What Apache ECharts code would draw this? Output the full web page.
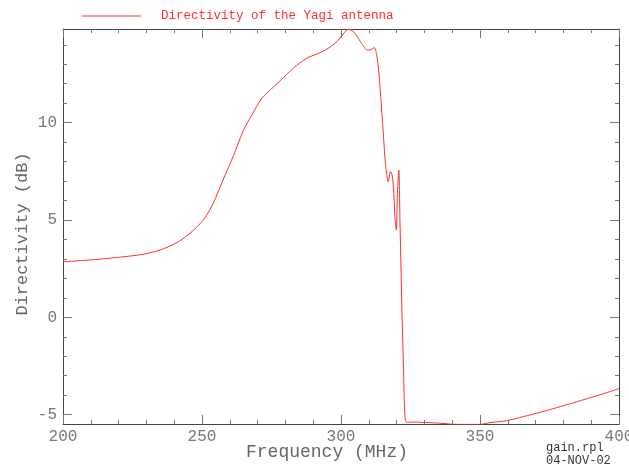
<!DOCTYPE html>
<html>
<head>
<meta charset="utf-8">
<script src="https://cdn.jsdelivr.net/npm/echarts@6/dist/echarts.min.js"></script>
<style>html,body{margin:0;padding:0;background:#fff}#c{width:629px;height:467px}</style>
</head>
<body>
<div id="c"></div>
<script>
var freq = [200,203,211,219,228,235,241,244.5,248,251,254,257.7,261.3,264.9,267.9,271.5,274.5,278.1,282.8,287.6,292.4,295.4,298.5,300.8,302.7,305,307.4,309.5,310.7,312,312.8,313.4,314,314.6,315.2,315.8,316.4,317.0,317.8,318.4,319,319.4,319.9,320.3,320.8,321.2,321.6,322.0,322.5,323.0,323.8,326,330,335.6,341.6,350,353.6,359.6,365.6,371.6,377.6,383.6,389.6,395.6,400];
var directivity = [2.85,2.88,2.96,3.07,3.22,3.46,3.84,4.18,4.62,5.1,5.85,7.1,8.3,9.6,10.39,11.25,11.67,12.15,12.79,13.3,13.59,13.82,14.16,14.55,14.8,14.59,14.07,13.73,13.75,13.85,13.5,12.9,11.9,10.7,9.5,8.2,7.4,6.96,7.48,7.31,6.37,5.17,4.48,6.37,7.56,5.0,2.43,-0.14,-2.71,-5.1,-5.4,-5.38,-5.4,-5.44,-5.5,-5.5,-5.41,-5.31,-5.1,-4.88,-4.64,-4.39,-4.13,-3.87,-3.66];
var xMajor = [200,250,300,350,400];
var xMinor = [210,220,230,240,260,270,280,290,310,320,330,340,360,370,380,390];
var yMajor = [-5,0,5,10];
var yMinor = [-4,-3,-2,-1,1,2,3,4,6,7,8,9,11,12,13,14];
var seriesName = 'Directivity of the Yagi antenna';

var data = freq.map(function(f,i){return [f, directivity[i]];});
var FONT = 'Liberation Mono';
var X0 = 200, X1 = 400, Y0 = -5.48, Y1 = 14.81;

function xa(pos, ticks, len, labels, line) {
  return {
    type: 'value', position: pos, min: X0, max: X1,
    axisLine: {show: line, onZero: false, lineStyle: {color: '#444', width: 1}},
    axisTick: {show: true, inside: true, length: len, customValues: ticks, lineStyle: {color: '#777', width: 1}},
    axisLabel: labels ? {show: true, customValues: xMajor, margin: 5, color: '#777', fontFamily: FONT, fontSize: 16} : {show: false},
    splitLine: {show: false}
  };
}
function ya(pos, ticks, len, labels, line) {
  return {
    type: 'value', position: pos, min: Y0, max: Y1,
    axisLine: {show: line, onZero: false, lineStyle: {color: '#444', width: 1}},
    axisTick: {show: true, inside: true, length: len, customValues: ticks, lineStyle: {color: '#777', width: 1}},
    axisLabel: labels ? {show: true, customValues: yMajor, margin: 6, color: '#777', fontFamily: FONT, fontSize: 16} : {show: false},
    splitLine: {show: false}
  };
}

var chart = echarts.init(document.getElementById('c'));
chart.setOption({
  animation: false,
  grid: {left: 63, right: 10, top: 29, bottom: 43, containLabel: false, outerBoundsMode: 'none'},
  legend: {
    left: 82, top: 9.5, padding: 0, itemWidth: 59, itemHeight: 1, icon: 'rect',
    formatter: function(n){ return '  ' + n; },
    textStyle: {color: '#ff3030', fontFamily: FONT, fontSize: 12.5},
    itemStyle: {color: '#ff3030'},
    data: [seriesName]
  },
  xAxis: [xa('bottom', xMajor, 9, true, true), xa('bottom', xMinor, 4, false, false),
          xa('top', xMajor, 9, false, true), xa('top', xMinor, 4, false, false)],
  yAxis: [ya('left', yMajor, 9, true, true), ya('left', yMinor, 4, false, false),
          ya('right', yMajor, 9, false, true), ya('right', yMinor, 4, false, false)],
  graphic: [
    {type: 'text', x: 327, y: 452, style: {text: 'Frequency (MHz)', textAlign: 'center', textVerticalAlign: 'middle', font: '18px "Liberation Mono"', fill: '#666'}},
    {type: 'text', x: 22, y: 234, rotation: Math.PI/2, style: {text: 'Directivity (dB)', textAlign: 'center', textVerticalAlign: 'middle', font: '17px "Liberation Mono"', fill: '#666'}},
    {type: 'text', x: 546, y: 448, style: {text: 'gain.rpl', textAlign: 'left', textVerticalAlign: 'middle', font: '12px "Liberation Mono"', fill: '#333'}},
    {type: 'text', x: 546, y: 461, style: {text: '04-NOV-02', textAlign: 'left', textVerticalAlign: 'middle', font: '12px "Liberation Mono"', fill: '#333'}}
  ],
  series: [{
    name: seriesName, type: 'line', xAxisIndex: 0, yAxisIndex: 0,
    data: data, showSymbol: false, symbol: 'none', smooth: 0.3,
    lineStyle: {color: '#ff3030', width: 1}, itemStyle: {color: '#ff3030'}
  }]
});
</script>
</body>
</html>
